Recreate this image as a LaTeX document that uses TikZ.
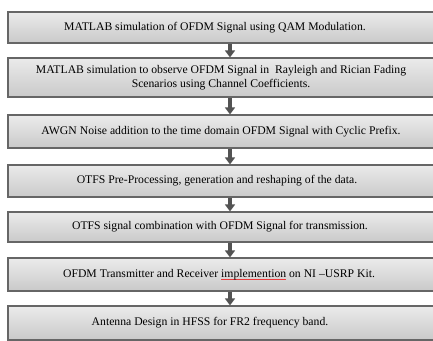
\documentclass[tikz,border=0pt]{standalone}
\usepackage{fontspec}
\setmainfont{Liberation Serif}
\usetikzlibrary{arrows.meta,shadows}
\definecolor{spellred}{RGB}{235,60,60}
\newcommand\spellmark[1]{\setbox0\hbox{#1}\rlap{\textcolor{spellred}{\rule[-0.5ex]{\wd0}{0.7pt}}}#1}

\begin{document}
\begin{tikzpicture}[x=1pt,y=-1pt,
  stagebox/.style={draw=gray!80!black,line width=1.2pt,top color=gray!16,bottom color=gray!42,minimum width=447pt,inner sep=0pt,drop shadow={shadow xshift=-1pt,shadow yshift=-1pt,opacity=.15}},
  stagetext/.style={font=\fontsize{11.7}{13.6}\selectfont,align=center,inner sep=0pt},
  flow/.style={line width=4pt,draw=gray!65!black,-{Triangle[width=10pt,length=7pt]}}]
\useasboundingbox (0,0) rectangle (433,340);
\node[stagebox,minimum height=31pt] (b1) at (231.5,27.5) {};
\node[stagebox,minimum height=39pt] (b2) at (231.5,77.5) {};
\node[stagebox,minimum height=33pt] (b3) at (231.5,131.5) {};
\node[stagebox,minimum height=32pt] (b4) at (231.5,181) {};
\node[stagebox,minimum height=30pt] (b5) at (231.5,227) {};
\node[stagebox,minimum height=33pt] (b6) at (231.5,274.5) {};
\node[stagebox,minimum height=34pt] (b7) at (231.5,323) {};
\node[stagetext] (t1) at (215,27.5) {MATLAB simulation of OFDM Signal using QAM Modulation.};
\node[stagetext] (t2) at (221,77.5) {MATLAB simulation to observe OFDM Signal in~ Rayleigh and Rician Fading\\Scenarios using Channel Coefficients.};
\node[stagetext] (t3) at (221,131.5) {AWGN Noise addition to the time domain OFDM Signal with Cyclic Prefix.};
\node[stagetext] (t4) at (217,181) {OTFS Pre-Processing, generation and reshaping of the data.};
\node[stagetext] (t5) at (220,227) {OTFS signal combination with OFDM Signal for transmission.};
\node[stagetext] (t6) at (219,274.5) {OFDM Transmitter and Receiver \spellmark{implemention} on NI --USRP Kit.};
\node[stagetext] (t7) at (210,323) {Antenna Design in HFSS for FR2 frequency band.};
\foreach \a/\b in {b1/b2,b2/b3,b3/b4,b4/b5,b5/b6,b6/b7}
    \draw[flow] ([xshift=-1.5pt]\a.south) -- ([xshift=-1.5pt]\b.north);
\end{tikzpicture}
\end{document}
